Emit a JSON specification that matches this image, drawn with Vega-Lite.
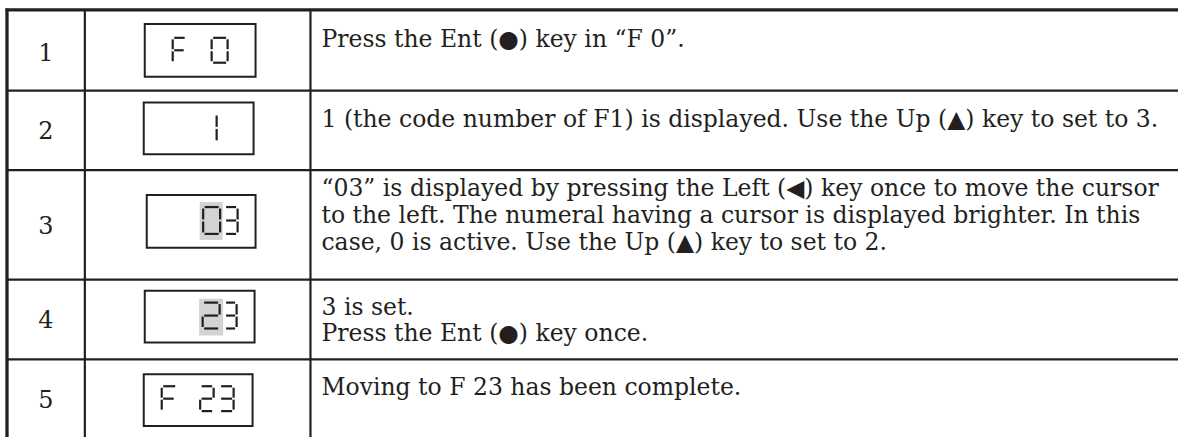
{
  "$schema": "https://vega.github.io/schema/vega-lite/v6.json",
  "width": 1180,
  "height": 439,
  "autosize": {"type": "fit", "contains": "padding"},
  "padding": 0,
  "background": "white",
  "config": {"view": {"stroke": null}},
  "datasets": {
    "highlight": [
      {"step": 3, "left": 200, "right": 223, "top": 203, "bottom": 241},
      {"step": 4, "left": 199.5, "right": 223.5, "top": 300, "bottom": 337}
    ],
    "display": [
      {"step": 1, "left": 145, "right": 256, "top": 24, "bottom": 77},
      {"step": 2, "left": 144, "right": 254, "top": 103, "bottom": 155},
      {"step": 3, "left": 147, "right": 256, "top": 196, "bottom": 249},
      {"step": 4, "left": 145, "right": 255, "top": 292, "bottom": 344},
      {"step": 5, "left": 144, "right": 253, "top": 376, "bottom": 428}
    ],
    "segments": [
      {"x": 174.5, "x2": 185, "y": 38, "y2": 38},
      {"x": 173, "x2": 173, "y": 39.5, "y2": 49.5},
      {"x": 173, "x2": 173, "y": 51.5, "y2": 61.5},
      {"x": 174.5, "x2": 184, "y": 50.5, "y2": 50.5},
      {"x": 213.5, "x2": 226.5, "y": 38, "y2": 38},
      {"x": 228, "x2": 228, "y": 39.5, "y2": 49.5},
      {"x": 228, "x2": 228, "y": 51.5, "y2": 61.5},
      {"x": 213.5, "x2": 226.5, "y": 63, "y2": 63},
      {"x": 212, "x2": 212, "y": 51.5, "y2": 61.5},
      {"x": 212, "x2": 212, "y": 39.5, "y2": 49.5},
      {"x": 217, "x2": 217, "y": 116, "y2": 127.5},
      {"x": 217, "x2": 217, "y": 129.5, "y2": 141},
      {"x": 205, "x2": 219, "y": 208, "y2": 208},
      {"x": 220.5, "x2": 220.5, "y": 209.5, "y2": 220.5},
      {"x": 220.5, "x2": 220.5, "y": 222.5, "y2": 233.5},
      {"x": 205, "x2": 219, "y": 235, "y2": 235},
      {"x": 203.5, "x2": 203.5, "y": 222.5, "y2": 233.5},
      {"x": 203.5, "x2": 203.5, "y": 209.5, "y2": 220.5},
      {"x": 226.5, "x2": 236.5, "y": 208, "y2": 208},
      {"x": 238, "x2": 238, "y": 209.5, "y2": 220.5},
      {"x": 238, "x2": 238, "y": 222.5, "y2": 233.5},
      {"x": 226.5, "x2": 236.5, "y": 235, "y2": 235},
      {"x": 226.5, "x2": 236.5, "y": 221.5, "y2": 221.5},
      {"x": 204.5, "x2": 218.5, "y": 304, "y2": 304},
      {"x": 220, "x2": 220, "y": 305.5, "y2": 316},
      {"x": 204.5, "x2": 218.5, "y": 317, "y2": 317},
      {"x": 203, "x2": 203, "y": 318, "y2": 328.5},
      {"x": 204.5, "x2": 218.5, "y": 330, "y2": 330},
      {"x": 226.5, "x2": 235.5, "y": 304, "y2": 304},
      {"x": 237, "x2": 237, "y": 305.5, "y2": 316},
      {"x": 237, "x2": 237, "y": 318, "y2": 328.5},
      {"x": 226.5, "x2": 235.5, "y": 330, "y2": 330},
      {"x": 226.5, "x2": 235.5, "y": 317, "y2": 317},
      {"x": 163.5, "x2": 175.5, "y": 388, "y2": 388},
      {"x": 162, "x2": 162, "y": 389.5, "y2": 399.5},
      {"x": 162, "x2": 162, "y": 401.5, "y2": 411.5},
      {"x": 163.5, "x2": 174, "y": 400.5, "y2": 400.5},
      {"x": 202, "x2": 212.5, "y": 388, "y2": 388},
      {"x": 214, "x2": 214, "y": 389.5, "y2": 399.5},
      {"x": 202, "x2": 212.5, "y": 400.5, "y2": 400.5},
      {"x": 200.5, "x2": 200.5, "y": 401.5, "y2": 411.5},
      {"x": 202, "x2": 212.5, "y": 413, "y2": 413},
      {"x": 221.5, "x2": 232.5, "y": 388, "y2": 388},
      {"x": 234, "x2": 234, "y": 389.5, "y2": 399.5},
      {"x": 234, "x2": 234, "y": 401.5, "y2": 411.5},
      {"x": 221.5, "x2": 232.5, "y": 413, "y2": 413},
      {"x": 221.5, "x2": 232.5, "y": 400.5, "y2": 400.5}
    ],
    "outer": [
      {"x": 5.5, "x2": 1180, "y": 10, "y2": 10},
      {"x": 7, "x2": 7, "y": 8.5, "y2": 439}
    ],
    "grid": [
      {"x": 85, "x2": 85, "y": 10, "y2": 439},
      {"x": 311, "x2": 311, "y": 10, "y2": 439},
      {"x": 7, "x2": 1180, "y": 91, "y2": 91},
      {"x": 7, "x2": 1180, "y": 171, "y2": 171},
      {"x": 7, "x2": 1180, "y": 281, "y2": 281},
      {"x": 7, "x2": 1180, "y": 361, "y2": 361}
    ],
    "numbers": [
      {"label": "1", "x": 46, "y": 61},
      {"label": "2", "x": 46, "y": 140},
      {"label": "3", "x": 46, "y": 235},
      {"label": "4", "x": 46, "y": 330},
      {"label": "5", "x": 46, "y": 410}
    ],
    "lines": [
      {"text": "Press the Ent (●) key in “F 0”.", "x": 322, "y": 47},
      {"text": "1 (the code number of F1) is displayed. Use the Up (▲) key to set to 3.", "x": 322, "y": 128},
      {"text": "“03” is displayed by pressing the Left (◀) key once to move the cursor", "x": 322, "y": 197},
      {"text": "to the left. The numeral having a cursor is displayed brighter. In this", "x": 322, "y": 224},
      {"text": "case, 0 is active. Use the Up (▲) key to set to 2.", "x": 322, "y": 251},
      {"text": "3 is set.", "x": 322, "y": 316},
      {"text": "Press the Ent (●) key once.", "x": 322, "y": 343},
      {"text": "Moving to F 23 has been complete.", "x": 322, "y": 397}
    ]
  },
  "layer": [
    {
      "data": {"name": "highlight"},
      "mark": {"type": "rect", "fill": "#d1d3d4"},
      "encoding": {
        "x": {"field": "left", "type": "quantitative", "scale": {"domain": [0, 1180], "nice": false, "zero": false}, "axis": null},
        "x2": {"field": "right"},
        "y": {"field": "top", "type": "quantitative", "scale": {"domain": [0, 439], "nice": false, "zero": false, "reverse": true}, "axis": null},
        "y2": {"field": "bottom"}
      }
    },
    {
      "data": {"name": "display"},
      "mark": {"type": "rect", "fill": null, "fillOpacity": 0, "stroke": "#231f20", "strokeWidth": 2},
      "encoding": {
        "x": {"field": "left", "type": "quantitative", "scale": {"domain": [0, 1180], "nice": false, "zero": false}, "axis": null},
        "x2": {"field": "right"},
        "y": {"field": "top", "type": "quantitative", "scale": {"domain": [0, 439], "nice": false, "zero": false, "reverse": true}, "axis": null},
        "y2": {"field": "bottom"}
      }
    },
    {
      "data": {"name": "segments"},
      "mark": {"type": "rule", "color": "#231f20", "strokeWidth": 2.2, "strokeCap": "butt"},
      "encoding": {
        "x": {"field": "x", "type": "quantitative", "scale": {"domain": [0, 1180], "nice": false, "zero": false}, "axis": null},
        "x2": {"field": "x2"},
        "y": {"field": "y", "type": "quantitative", "scale": {"domain": [0, 439], "nice": false, "zero": false, "reverse": true}, "axis": null},
        "y2": {"field": "y2"}
      }
    },
    {
      "data": {"name": "grid"},
      "mark": {"type": "rule", "color": "#231f20", "strokeWidth": 2.2},
      "encoding": {
        "x": {"field": "x", "type": "quantitative", "scale": {"domain": [0, 1180], "nice": false, "zero": false}, "axis": null},
        "x2": {"field": "x2"},
        "y": {"field": "y", "type": "quantitative", "scale": {"domain": [0, 439], "nice": false, "zero": false, "reverse": true}, "axis": null},
        "y2": {"field": "y2"}
      }
    },
    {
      "data": {"name": "outer"},
      "mark": {"type": "rule", "color": "#231f20", "strokeWidth": 3.3},
      "encoding": {
        "x": {"field": "x", "type": "quantitative", "scale": {"domain": [0, 1180], "nice": false, "zero": false}, "axis": null},
        "x2": {"field": "x2"},
        "y": {"field": "y", "type": "quantitative", "scale": {"domain": [0, 439], "nice": false, "zero": false, "reverse": true}, "axis": null},
        "y2": {"field": "y2"}
      }
    },
    {
      "data": {"name": "numbers"},
      "mark": {"type": "text", "font": "DejaVu Serif", "fontSize": 24, "align": "center", "baseline": "alphabetic", "color": "#231f20"},
      "encoding": {
        "x": {"field": "x", "type": "quantitative", "scale": {"domain": [0, 1180], "nice": false, "zero": false}, "axis": null},
        "y": {"field": "y", "type": "quantitative", "scale": {"domain": [0, 439], "nice": false, "zero": false, "reverse": true}, "axis": null},
        "text": {"field": "label"}
      }
    },
    {
      "data": {"name": "lines"},
      "mark": {"type": "text", "font": "DejaVu Serif", "fontSize": 23.5, "align": "left", "baseline": "alphabetic", "color": "#231f20"},
      "encoding": {
        "x": {"field": "x", "type": "quantitative", "scale": {"domain": [0, 1180], "nice": false, "zero": false}, "axis": null},
        "y": {"field": "y", "type": "quantitative", "scale": {"domain": [0, 439], "nice": false, "zero": false, "reverse": true}, "axis": null},
        "text": {"field": "text"}
      }
    }
  ]
}
